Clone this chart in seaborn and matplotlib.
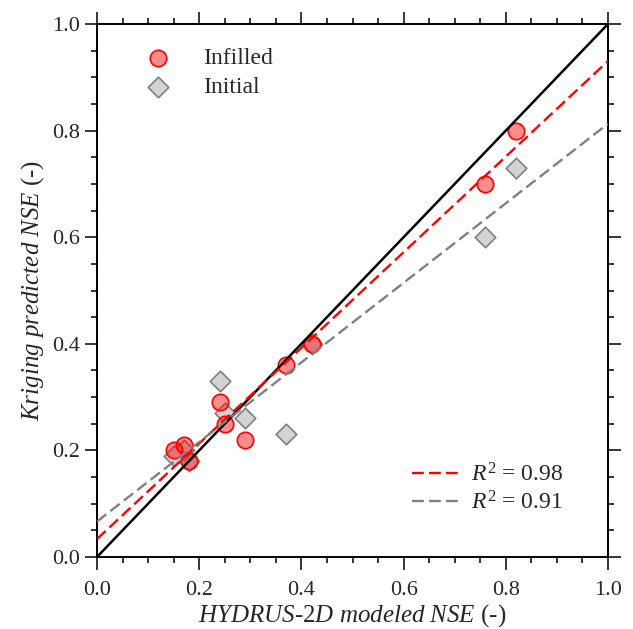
import numpy as np
import pandas as pd
import matplotlib
matplotlib.use('Agg')
import matplotlib.pyplot as plt
from matplotlib.lines import Line2D
from matplotlib.ticker import MultipleLocator, FormatStrFormatter
import seaborn as sns

# HYDRUS-2D modeled NSE (same x for both sets)
hydrus_nse = [0.82, 0.76, 0.42, 0.37, 0.29, 0.25, 0.24, 0.18, 0.17, 0.15]
# Kriging predicted NSE
infilled_nse = [0.80, 0.70, 0.40, 0.36, 0.22, 0.25, 0.29, 0.18, 0.21, 0.20]
initial_nse = [0.73, 0.60, 0.40, 0.23, 0.26, 0.27, 0.33, 0.18, 0.20, 0.19]
r2_labels = ['0.98', '0.91']

df = pd.DataFrame({'x': hydrus_nse, 'infilled': infilled_nse, 'initial': initial_nse})

sns.set_style('ticks')
plt.rcParams['font.family'] = ['Liberation Serif', 'DejaVu Serif']
plt.rcParams['mathtext.fontset'] = 'custom'
plt.rcParams['mathtext.rm'] = 'Liberation Serif'
plt.rcParams['mathtext.it'] = 'Liberation Serif:italic'

fig = plt.figure(figsize=(6.33, 6.29), dpi=100)
ax = fig.add_axes([97 / 633, 1 - 557 / 629, 511 / 633, 533 / 629])
ax.set_xlim(0, 1)
ax.set_ylim(0, 1)

# 1:1 line
ax.plot([0, 1], [0, 1], color='black', lw=1.8, zorder=4)

sns.scatterplot(data=df, x='x', y='initial', ax=ax, marker='D', s=110,
                color='#d3d3d3', edgecolor='#808080', linewidth=1.2, zorder=2)
sns.scatterplot(data=df, x='x', y='infilled', ax=ax, marker='o', s=140,
                color=(1, 0, 0, 0.45), edgecolor='red', linewidth=1.2, zorder=3)

dash = (0, (5, 2.2))
sns.regplot(data=df, x='x', y='infilled', ax=ax, scatter=False, ci=None, truncate=False,
            line_kws=dict(color='red', lw=1.7, ls=dash, zorder=5))
sns.regplot(data=df, x='x', y='initial', ax=ax, scatter=False, ci=None, truncate=False,
            line_kws=dict(color='#808080', lw=1.7, ls=dash, zorder=5))

ax.set_xlim(0, 1)
ax.set_ylim(0, 1)

ax.xaxis.set_major_locator(MultipleLocator(0.2))
ax.yaxis.set_major_locator(MultipleLocator(0.2))
ax.xaxis.set_minor_locator(MultipleLocator(0.05))
ax.yaxis.set_minor_locator(MultipleLocator(0.05))
ax.xaxis.set_major_formatter(FormatStrFormatter('%.1f'))
ax.yaxis.set_major_formatter(FormatStrFormatter('%.1f'))
ax.tick_params(which='both', direction='out', top=True, right=True, labelsize=16,
               color='black', width=1.1)
ax.tick_params(which='major', length=9)
ax.tick_params(which='minor', length=4.5)
ax.tick_params(axis='x', which='major', pad=8.5)
ax.tick_params(axis='y', which='major', pad=3)
for sp in ax.spines.values():
    sp.set_visible(True)
    sp.set_linewidth(1.4)
    sp.set_color('black')

ax.set_xlabel(r'$\mathit{HYDRUS}$-$\mathit{2D\ modeled\ NSE}$ (-)', fontsize=18, labelpad=1)
ax.set_ylabel(r'$\mathit{Kriging\ predicted\ NSE}$ (-)', fontsize=18, labelpad=5)

# marker legend
pts = ax.collections
leg1 = ax.legend(handles=[pts[1], pts[0]], labels=['Infilled', 'Initial'],
                 loc='upper left', bbox_to_anchor=(0.045, 0.982), frameon=False,
                 fontsize=17, handletextpad=0.9, labelspacing=0.32, borderaxespad=0.2)
ax.add_artist(leg1)

line_handles = [Line2D([], [], color='red', lw=1.7, ls=dash),
                Line2D([], [], color='#808080', lw=1.7, ls=dash)]
ax.legend(handles=line_handles, labels=[r'$\mathit{R}^2$ = ' + v for v in r2_labels],
          loc='lower right', bbox_to_anchor=(0.955, 0.04), frameon=False,
          fontsize=17, handlelength=2.0, handletextpad=0.5, labelspacing=0.2)

fig.savefig('out.png', dpi=100)
